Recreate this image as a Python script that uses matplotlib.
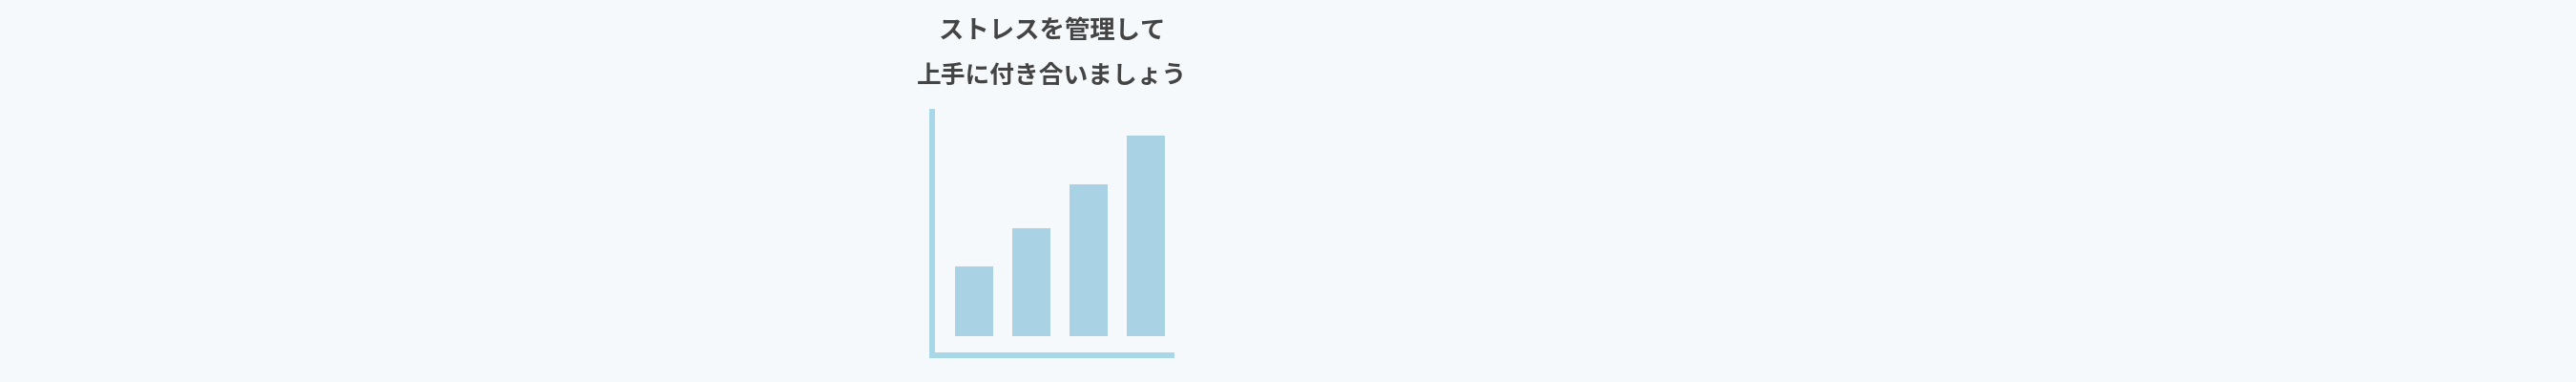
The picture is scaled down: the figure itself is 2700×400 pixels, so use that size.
import matplotlib
matplotlib.use('Agg')
import matplotlib.pyplot as plt

plt.rcParams['font.family'] = ['Noto Sans CJK JP', 'DejaVu Sans']

title_lines = ["ストレスを管理して", "上手に付き合いましょう"]
categories = ["1", "2", "3", "4"]
values = [35, 54, 76, 100]

BG = "#f5f9fc"
BAR = "#a9d3e4"
AXIS = "#a8d8e8"
TEXT = "#444444"

W, H = 2700, 400
fig = plt.figure(figsize=(W / 100, H / 100), dpi=100, facecolor=BG)

# chart area in pixels (left, bottom-from-top, right, top)
left, bottom, right, top = 977, 372, 1228, 117
ax = fig.add_axes([left / W, 1 - bottom / H, (right - left) / W, (bottom - top) / H])
ax.set_facecolor("none")

x = range(len(categories))
ax.bar(x, values, width=0.667, color=BAR, edgecolor="none")
ax.set_xlim(-0.733, 3.45)
ax.set_ylim(-9.5, 112)

for side in ("top", "right"):
    ax.spines[side].set_visible(False)
for side in ("left", "bottom"):
    ax.spines[side].set_color(AXIS)
    ax.spines[side].set_linewidth(4.3)
ax.set_xticks([])
ax.set_yticks([])

cx = 1103 / W
fig.text(cx, 1 - 33 / H, title_lines[0], ha="center", va="center",
         fontsize=19, fontweight="bold", color=TEXT)
fig.text(cx, 1 - 79 / H, title_lines[1], ha="center", va="center",
         fontsize=18.5, fontweight="bold", color=TEXT)

fig.savefig("out.png", dpi=100, facecolor=BG)
plt.close(fig)
